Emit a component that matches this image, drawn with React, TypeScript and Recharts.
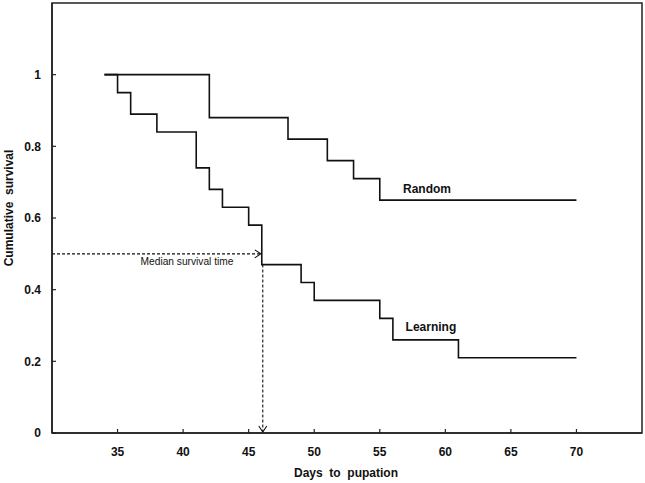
import React from 'react';
import { LineChart, Line, XAxis, YAxis, ReferenceArea, ReferenceLine, ReferenceDot } from 'recharts';

const randomDays = [34, 42, 48, 51, 53, 55, 70];
const randomSurvival = [1, 0.88, 0.82, 0.76, 0.71, 0.65, 0.65];
const learningDays = [34, 35, 36, 38, 41, 42, 43, 45, 46, 49, 50, 55, 56, 61, 70];
const learningSurvival = [1, 0.95, 0.89, 0.84, 0.74, 0.68, 0.63, 0.58, 0.47, 0.42, 0.37, 0.32, 0.26, 0.21, 0.21];
const xTicks = [35, 40, 45, 50, 55, 60, 65, 70];
const yTicks = [0, 0.2, 0.4, 0.6, 0.8, 1];
const medianDay = 46;
const medianLevel = 0.5;
const medianDropLevel = 0.47;

const randomData = randomDays.map((x, i) => ({ x, y: randomSurvival[i] }));
const learningData = learningDays.map((x, i) => ({ x, y: learningSurvival[i] }));

const FONT = '"Liberation Sans", Arial, sans-serif';

const XTick = (props: any) => {
  const { x, y, payload } = props;
  return (
    <g>
      <line x1={x} y1={y} x2={x} y2={y - 4} stroke="#222" strokeWidth={1.2} />
      <text x={x} y={y + 23} textAnchor="middle" fontSize={12} fontWeight="bold" fill="#111" fontFamily={FONT}>
        {payload.value}
      </text>
    </g>
  );
};

const YTick = (props: any) => {
  const { x, y, payload } = props;
  return (
    <g>
      <line x1={x} y1={y} x2={x + 4} y2={y} stroke="#222" strokeWidth={1.2} />
      <text x={x - 11} y={y + 4.3} textAnchor="end" fontSize={12} fontWeight="bold" fill="#111" fontFamily={FONT}>
        {String(payload.value)}
      </text>
    </g>
  );
};

const HArrow = (props: any) => {
  const { x1, y1, x2, y2 } = props;
  return (
    <g>
      <line x1={x1} y1={y1} x2={x2 - 1} y2={y2} stroke="#111" strokeWidth={1.1} strokeDasharray="3 2" />
      <polyline points={`${x2 - 7},${y2 - 4} ${x2 - 1},${y2} ${x2 - 7},${y2 + 4}`} fill="none" stroke="#111" strokeWidth={1.1} />
    </g>
  );
};

const VArrow = (props: any) => {
  const { x1, y1, x2, y2 } = props;
  const top = Math.min(y1, y2);
  const bot = Math.max(y1, y2) - 1;
  return (
    <g>
      <line x1={x1 + 1} y1={top} x2={x2 + 1} y2={bot} stroke="#111" strokeWidth={1.1} strokeDasharray="3 2" />
      <polyline points={`${x1 - 3},${bot - 6} ${x1 + 1},${bot} ${x1 + 5},${bot - 6}`} fill="none" stroke="#111" strokeWidth={1.1} />
    </g>
  );
};

const makeText = (txt: string, size: number, weight: string) => (p: any) => (
  <text x={p.cx} y={p.cy + size * 0.36} textAnchor="middle" fontSize={size} fontWeight={weight} fill="#111" fontFamily={FONT}>
    {txt}
  </text>
);

export default function App() {
  return (
    <div style={{ position: 'absolute', left: 0, top: 0, width: 645, height: 483, background: '#fff' }}>
      <LineChart width={645} height={483} margin={{ top: 3, right: 3, left: 0, bottom: 0 }} style={{ fontFamily: FONT }}>
        <XAxis
          dataKey="x"
          type="number"
          domain={[30, 75]}
          ticks={xTicks}
          allowDuplicatedCategory={false}
          height={50}
          tickSize={0}
          tickMargin={0}
          tickLine={false}
          tick={<XTick />}
          axisLine={{ stroke: '#222', strokeWidth: 1.5 }}
          interval={0}
        />
        <YAxis
          type="number"
          domain={[0, 1.2]}
          ticks={yTicks}
          width={52}
          tickSize={0}
          tickMargin={0}
          tickLine={false}
          tick={<YTick />}
          axisLine={{ stroke: '#222', strokeWidth: 1.5 }}
          interval={0}
        />
        <ReferenceArea x1={30} x2={75} y1={0} y2={1.2} fill="none" stroke="#222" strokeWidth={1.5} ifOverflow="visible" />
        <Line data={randomData} dataKey="y" type="stepAfter" stroke="#111" strokeWidth={1.6} dot={false} activeDot={false} isAnimationActive={false} />
        <Line data={learningData} dataKey="y" type="stepAfter" stroke="#111" strokeWidth={1.6} dot={false} activeDot={false} isAnimationActive={false} />
        <ReferenceLine segment={[{ x: 30, y: medianLevel }, { x: medianDay, y: medianLevel }]} shape={<HArrow />} ifOverflow="visible" />
        <ReferenceLine segment={[{ x: medianDay, y: medianDropLevel }, { x: medianDay, y: 0 }]} shape={<VArrow />} ifOverflow="visible" />
        <ReferenceDot x={40.3} y={0.478} r={0} shape={makeText('Median survival time', 10.2, 'normal')} ifOverflow="visible" />
        <ReferenceDot x={58.6} y={0.683} r={0} shape={makeText('Random', 12, 'bold')} ifOverflow="visible" />
        <ReferenceDot x={58.9} y={0.297} r={0} shape={makeText('Learning', 12, 'bold')} ifOverflow="visible" />
        <text x={346} y={477} textAnchor="middle" fontSize={12} fontWeight="bold" fill="#111" fontFamily={FONT} style={{ whiteSpace: 'pre' }}>
          {'Days  to  pupation'}
        </text>
        <text x={9} y={208} textAnchor="middle" fontSize={12} fontWeight="bold" fill="#111" fontFamily={FONT} dominantBaseline="central" transform="rotate(-90 9 208)" style={{ whiteSpace: 'pre' }}>
          {'Cumulative  survival'}
        </text>
      </LineChart>
    </div>
  );
}
